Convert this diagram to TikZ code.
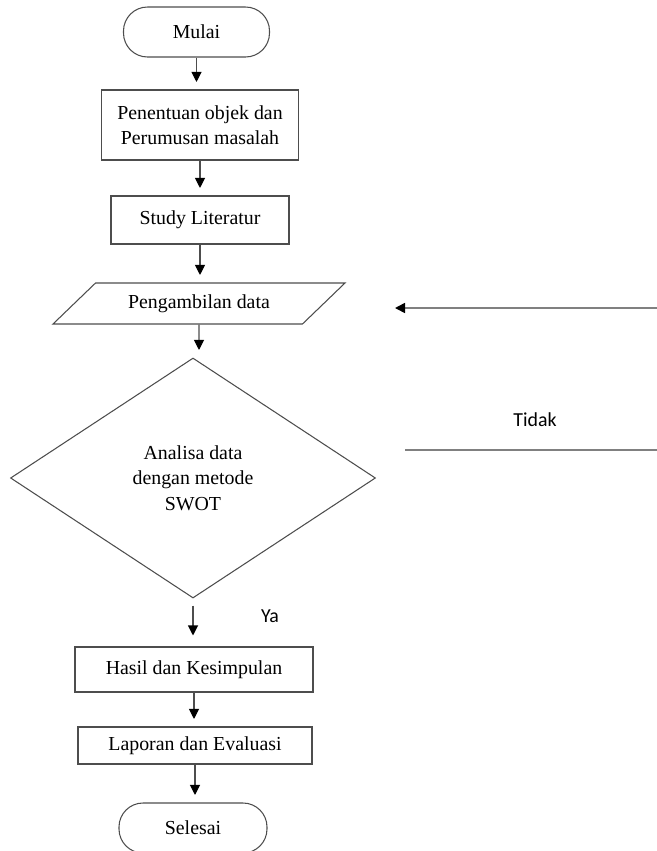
\documentclass[tikz,border=0pt]{standalone}
\usepackage{fontspec}
\setmainfont{Liberation Serif}
\newfontfamily\sansket{Carlito}
\usetikzlibrary{arrows.meta, positioning, shapes.geometric, calc}
\definecolor{cline}{HTML}{4D4D4D}
\definecolor{cgrey}{HTML}{808080}
\tikzset{
  every picture/.style={font=\fontsize{11.3}{14.5}\selectfont, line width=0.6pt},
  terminal/.style={draw=cline, rounded corners=0.48cm, minimum height=1cm, align=center},
  box/.style={draw=cline, align=center, inner sep=4pt},
  data/.style={trapezium, trapezium left angle=35, trapezium right angle=145, trapezium stretches body,
    draw=cline, minimum width=5.84cm, minimum height=0.82cm},
  decision/.style={diamond, draw=cline, aspect=1.52, minimum width=7.3cm, minimum height=4.8cm, align=center, inner sep=0pt},
  arrow/.style={-{Triangle[length=2mm, width=2mm, color=black]}, draw=cline, shorten >=0.15cm},
  garis/.style={draw=cgrey, line width=0.9pt},
  ket/.style={font=\sansket\fontsize{11.3}{14}\selectfont},
}
\begin{document}
\begin{tikzpicture}
  \useasboundingbox (0,0) rectangle (13.12,-17.02);
  % alur utama
  \node[terminal, minimum width=2.92cm] (mulai) at (3.93,-0.64) {Mulai};
  \node[box, minimum width=3.94cm, minimum height=1.4cm] (objek) at (4.0,-2.5) {Penentuan objek dan\\Perumusan masalah};
  \node[box, minimum width=3.56cm, minimum height=0.96cm] (studi) at (4.0,-4.4) {Study Literatur};
  \node[data] (ambil) at (3.98,-6.07) {Pengambilan data};
  \node[decision] (analisa) at (3.86,-9.56) {Analisa data\\dengan metode\\SWOT};
  \node[box, minimum width=4.76cm, minimum height=0.9cm] (hasil) at (3.88,-13.39) {Hasil dan Kesimpulan};
  \node[box, minimum width=4.68cm, minimum height=0.74cm] (lapor) at (3.9,-14.91) {Laporan dan Evaluasi};
  \node[terminal, minimum width=2.96cm] (selesai) at (3.86,-16.56) {Selesai};
  \foreach \a/\b in {mulai/objek, objek/studi, studi/ambil, ambil/analisa, hasil/lapor, lapor/selesai}
    \draw[arrow] (\a) -- (\a |- \b.north);
  \draw[arrow, shorten <=0.14cm, shorten >=0.22cm] (analisa) -- (analisa |- hasil.north);
  \node[ket] (ya) at (5.4,-12.32) {Ya};
  % cabang tidak
  \coordinate (kanan1) at (13.2,-6.16);
  \coordinate (balik) at (7.9,-6.16);
  \draw[arrow, draw=cgrey, line width=0.9pt, shorten >=0pt] (kanan1) -- (balik);
  \coordinate (kanan2) at (13.2,-9.0);
  \coordinate (kiri2) at (8.1,-9.0);
  \draw[garis] (kiri2) -- (kanan2);
  \node[ket] (tidak) at (10.7,-8.4) {Tidak};
\end{tikzpicture}
\end{document}
